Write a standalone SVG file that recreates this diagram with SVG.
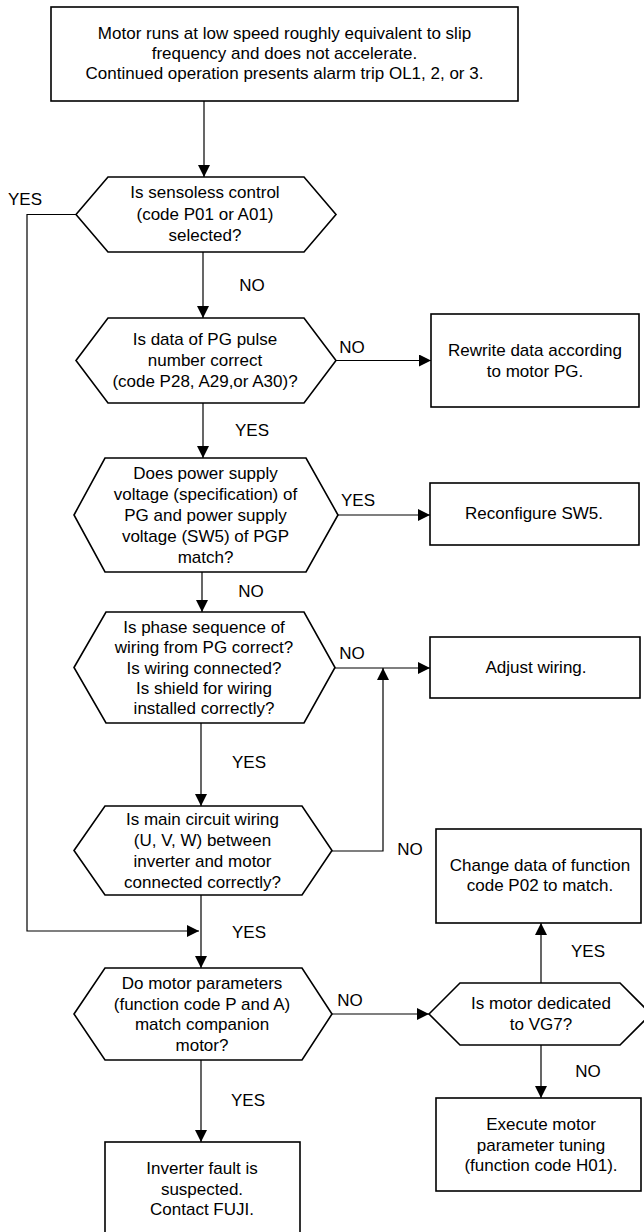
<svg xmlns="http://www.w3.org/2000/svg" width="644" height="1232" viewBox="0 0 644 1232">
<style>
.shape{fill:#fff;stroke:#000;stroke-width:1.6}
.wire{fill:none;stroke:#000;stroke-width:1.2}
text{font-family:"Liberation Sans",Arial,sans-serif;font-size:17px;fill:#000}
.c{text-anchor:middle}
</style>
<defs>
<marker id="ah" markerUnits="userSpaceOnUse" markerWidth="12" markerHeight="12" refX="12" refY="6" orient="auto">
<path d="M0,0 L12,6 L0,12 z" fill="#000"/>
</marker>
</defs>
<rect width="644" height="1232" fill="#fff"/>

<g id="connectors">
<path class="wire" d="M204,101 V177" marker-end="url(#ah)"/>
<path class="wire" d="M76,214.5 H27 V931 H199" marker-end="url(#ah)"/>
<path class="wire" d="M203,252 V318" marker-end="url(#ah)"/>
<path class="wire" d="M336,360.5 H431" marker-end="url(#ah)"/>
<path class="wire" d="M203,403 V458" marker-end="url(#ah)"/>
<path class="wire" d="M338,515 H430" marker-end="url(#ah)"/>
<path class="wire" d="M202,572 V612" marker-end="url(#ah)"/>
<path class="wire" d="M335,668 H430" marker-end="url(#ah)"/>
<path class="wire" d="M201,723 V806" marker-end="url(#ah)"/>
<path class="wire" d="M332,851 H383 V668" marker-end="url(#ah)"/>
<path class="wire" d="M201,895 V968" marker-end="url(#ah)"/>
<path class="wire" d="M332,1014 H429" marker-end="url(#ah)"/>
<path class="wire" d="M541,983 V923" marker-end="url(#ah)"/>
<path class="wire" d="M541,1045 V1098" marker-end="url(#ah)"/>
<path class="wire" d="M201,1060 V1142" marker-end="url(#ah)"/>
<text class="c" x="25" y="205">YES</text>
<text class="c" x="252" y="291">NO</text>
<text class="c" x="352" y="353">NO</text>
<text class="c" x="252" y="436">YES</text>
<text class="c" x="358" y="506">YES</text>
<text class="c" x="251" y="597">NO</text>
<text class="c" x="352" y="659">NO</text>
<text class="c" x="249" y="768">YES</text>
<text class="c" x="410" y="855">NO</text>
<text class="c" x="249" y="938">YES</text>
<text class="c" x="350" y="1006">NO</text>
<text class="c" x="588" y="957">YES</text>
<text class="c" x="588" y="1077">NO</text>
<text class="c" x="248" y="1106">YES</text>
</g>

<g id="start">
<rect class="shape" x="51" y="7" width="467" height="94"/>
<text class="c" x="284.5" y="39">Motor runs at low speed roughly equivalent to slip</text>
<text class="c" x="284.5" y="59">frequency and does not accelerate.</text>
<text class="c" x="284.5" y="79">Continued operation presents alarm trip OL1, 2, or 3.</text>
</g>

<g id="q-sensorless">
<polygon class="shape" points="76,214.5 108,177 304,177 336,214.5 304,252 108,252"/>
<text class="c" x="205" y="198">Is sensoless control</text>
<text class="c" x="205" y="219.5">(code P01 or A01)</text>
<text class="c" x="205" y="241">selected?</text>
</g>

<g id="q-pulse">
<polygon class="shape" points="76,360.5 108,318 304,318 336,360.5 304,403 108,403"/>
<text class="c" x="205" y="345">Is data of PG pulse</text>
<text class="c" x="205" y="366">number correct</text>
<text class="c" x="205" y="387">(code P28, A29,or A30)?</text>
</g>

<g id="a-rewrite">
<rect class="shape" x="431" y="314" width="208" height="93"/>
<text class="c" x="535" y="356">Rewrite data according</text>
<text class="c" x="535" y="377">to motor PG.</text>
</g>

<g id="q-voltage">
<polygon class="shape" points="74,515 105,458 306,458 338,515 306,572 105,572"/>
<text class="c" x="205.5" y="479">Does power supply</text>
<text class="c" x="205.5" y="500">voltage (specification) of</text>
<text class="c" x="205.5" y="521">PG and power supply</text>
<text class="c" x="205.5" y="542">voltage (SW5) of PGP</text>
<text class="c" x="205.5" y="563">match?</text>
</g>

<g id="a-sw5">
<rect class="shape" x="430" y="483" width="209" height="62"/>
<text class="c" x="534" y="519">Reconfigure SW5.</text>
</g>

<g id="q-phase">
<polygon class="shape" points="74,667.5 106,612 304,612 335,667.5 304,723 106,723"/>
<text class="c" x="204" y="633">Is phase sequence of</text>
<text class="c" x="204" y="653">wiring from PG correct?</text>
<text class="c" x="204" y="674">Is wiring connected?</text>
<text class="c" x="204" y="694">Is shield for wiring</text>
<text class="c" x="204" y="714">installed correctly?</text>
</g>

<g id="a-wiring">
<rect class="shape" x="430" y="637" width="210" height="61"/>
<text class="c" x="536" y="673">Adjust wiring.</text>
</g>

<g id="q-main">
<polygon class="shape" points="74,850.5 105,806 302,806 332,850.5 302,895 105,895"/>
<text class="c" x="202.5" y="825">Is main circuit wiring</text>
<text class="c" x="202.5" y="846">(U, V, W) between</text>
<text class="c" x="202.5" y="867">inverter and motor</text>
<text class="c" x="202.5" y="888">connected correctly?</text>
</g>

<g id="q-params">
<polygon class="shape" points="74,1014 105,968 302,968 332,1014 302,1060 105,1060"/>
<text class="c" x="202" y="989">Do motor parameters</text>
<text class="c" x="202" y="1010">(function code P and A)</text>
<text class="c" x="202" y="1030">match companion</text>
<text class="c" x="202" y="1051">motor?</text>
</g>

<g id="q-vg7">
<polygon class="shape" points="429,1014 460,983 620,983 651,1014 620,1045 460,1045"/>
<text class="c" x="541" y="1009">Is motor dedicated</text>
<text class="c" x="541" y="1030">to VG7?</text>
</g>

<g id="a-p02">
<rect class="shape" x="436" y="829" width="205" height="94"/>
<text class="c" x="540" y="871">Change data of function</text>
<text class="c" x="540" y="891">code P02 to match.</text>
</g>

<g id="a-tuning">
<rect class="shape" x="436" y="1098" width="205" height="93"/>
<text class="c" x="541" y="1130">Execute motor</text>
<text class="c" x="541" y="1151">parameter tuning</text>
<text class="c" x="541" y="1171">(function code H01).</text>
</g>

<g id="a-fault">
<rect class="shape" x="105" y="1142" width="195" height="100"/>
<text class="c" x="202" y="1174">Inverter fault is</text>
<text class="c" x="202" y="1195">suspected.</text>
<text class="c" x="202" y="1215">Contact FUJI.</text>
</g>
</svg>
